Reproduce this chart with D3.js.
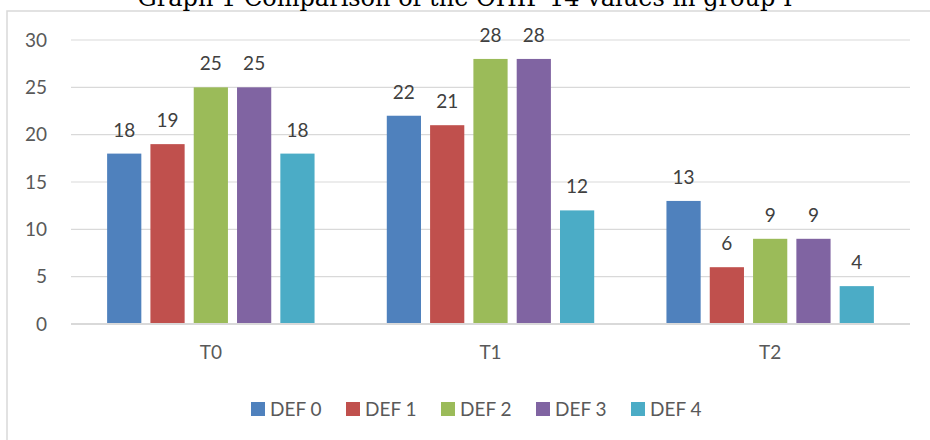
<!DOCTYPE html>
<html>
<head>
<meta charset="utf-8">
<script src="https://cdn.jsdelivr.net/npm/d3@7"></script>
<style>
  html, body { margin: 0; padding: 0; background: #fff; }
  svg { display: block; }
</style>
</head>
<body>
<svg id="chart" width="930" height="440"></svg>
<script>
const title = "Graph 1 Comparison of the OHIP-14 values in group I";
const categories = ["T0", "T1", "T2"];
const seriesNames = ["DEF 0", "DEF 1", "DEF 2", "DEF 3", "DEF 4"];
const def0 = [18, 22, 13];
const def1 = [19, 21, 6];
const def2 = [25, 28, 9];
const def3 = [25, 28, 9];
const def4 = [18, 12, 4];
const yTicks = [0, 5, 10, 15, 20, 25, 30];
const colors = ["#4f81bd", "#c0504d", "#9bbb59", "#8064a2", "#4bacc6"];

const seriesValues = [def0, def1, def2, def3, def4];
const series = seriesNames.map((name, i) => ({ name, values: seriesValues[i], color: colors[i] }));

const svg = d3.select("#chart");
const textColor = "#595959";
const font = "Lato, 'Liberation Sans', sans-serif";

// chart area border (only left and top visible)
svg.append("rect")
  .attr("x", 7).attr("y", 11)
  .attr("width", 960).attr("height", 460)
  .attr("fill", "#fff")
  .attr("stroke", "#d9d9d9").attr("stroke-width", 1.5);

// title (clipped at the top, as in the reference)
svg.append("text")
  .attr("x", 465).attr("y", 6)
  .attr("text-anchor", "middle")
  .attr("font-family", "'DejaVu Serif', 'Liberation Serif', serif")
  .attr("font-size", 24)
  .attr("fill", "#000")
  .text(title);

const plot = { left: 71, right: 910, top: 40, bottom: 324 };

const y = d3.scaleLinear().domain([0, 30]).range([plot.bottom, plot.top]);
const x0 = d3.scaleBand().domain(categories).range([plot.left, plot.right]).padding(0);
const x1 = d3.scaleBand().domain(seriesNames).range([0, x0.bandwidth()])
  .paddingInner(0.21).paddingOuter(0.834);

// y axis labels
const yAxis = d3.axisLeft(y).tickValues(yTicks).tickSize(0).tickPadding(24);
const yG = svg.append("g").attr("transform", `translate(${plot.left},0)`).call(yAxis);
yG.select(".domain").remove();
yG.selectAll("text")
  .attr("font-family", font).attr("font-size", 19).attr("fill", textColor);

// gridlines
svg.append("g").selectAll("line")
  .data(yTicks.filter(t => t !== 0))
  .join("line")
  .attr("x1", plot.left).attr("x2", plot.right)
  .attr("y1", d => y(d)).attr("y2", d => y(d))
  .attr("stroke", "#d9d9d9").attr("stroke-width", 1.2);

// bars
const groups = svg.append("g").selectAll("g")
  .data(categories)
  .join("g")
  .attr("transform", d => `translate(${x0(d)},0)`);

groups.selectAll("rect")
  .data((c, ci) => series.map(s => ({ name: s.name, value: s.values[ci], color: s.color })))
  .join("rect")
  .attr("x", d => x1(d.name))
  .attr("y", d => y(d.value))
  .attr("width", x1.bandwidth())
  .attr("height", d => y(0) - y(d.value))
  .attr("fill", d => d.color);

groups.selectAll("text")
  .data((c, ci) => series.map(s => ({ name: s.name, value: s.values[ci] })))
  .join("text")
  .attr("x", d => x1(d.name) + x1.bandwidth() / 2)
  .attr("y", d => y(d.value) - 17)
  .attr("text-anchor", "middle")
  .attr("font-family", font).attr("font-size", 19)
  .attr("fill", "#404040")
  .text(d => d.value);

// zero line
svg.append("line")
  .attr("x1", plot.left).attr("x2", plot.right)
  .attr("y1", y(0)).attr("y2", y(0))
  .attr("stroke", "#d9d9d9").attr("stroke-width", 2);

// x axis labels
const xAxis = d3.axisBottom(x0).tickSize(0).tickPadding(22);
const xG = svg.append("g").attr("transform", `translate(0,${plot.bottom})`).call(xAxis);
xG.select(".domain").remove();
xG.selectAll("text")
  .attr("font-family", font).attr("font-size", 19).attr("fill", textColor);

// legend
const legendX = d3.scalePoint().domain(seriesNames).range([251, 631]);
const legend = svg.append("g").selectAll("g")
  .data(series)
  .join("g")
  .attr("transform", d => `translate(${legendX(d.name)},402)`);
legend.append("rect")
  .attr("width", 14).attr("height", 14)
  .attr("fill", d => d.color);
legend.append("text")
  .attr("x", 19).attr("y", 14)
  .attr("font-family", font).attr("font-size", 19)
  .attr("fill", textColor)
  .text(d => d.name);
</script>
</body>
</html>
